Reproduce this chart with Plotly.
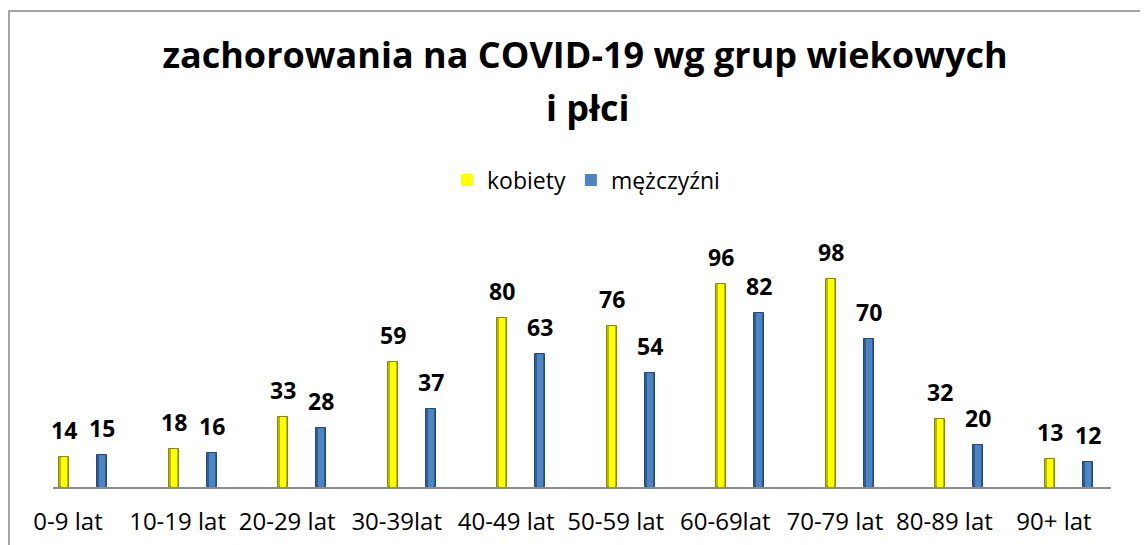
import plotly.graph_objects as go

categories = ["0-9 lat", "10-19 lat", "20-29 lat", "30-39lat", "40-49 lat",
              "50-59 lat", "60-69lat", "70-79 lat", "80-89 lat", "90+ lat"]
kobiety = [14, 18, 33, 59, 80, 76, 96, 98, 32, 13]
mezczyzni = [15, 16, 28, 37, 63, 54, 82, 70, 20, 12]

FONT = "Open Sans"
W, H = 1148, 545
SH = 8  # page body margin offset (screen = figure + 8)
ML, MT = 53 - SH, 200 - SH
MR = W - (1111 - SH)
MB = H - (487 - SH)
OFF = 0.1734   # half distance between the two bars of a group (axis units)
BW = 0.092     # bar width (axis units)

plot_h = H - MT - MB
plot_w = W - ML - MR


def px_x(sx):
    return (sx - SH - ML) / plot_w


def px_y(sy):
    return (H - MB - (sy - SH)) / plot_h


idx = list(range(len(categories)))
xk = [i - OFF for i in idx]
xm = [i + OFF for i in idx]

fig = go.Figure()
# outer (darker edge) bars
fig.add_trace(go.Bar(
    x=xk, y=kobiety, width=BW, showlegend=False, hoverinfo="skip",
    marker=dict(color="#B9B900", line=dict(color="#8A8A00", width=1)),
))
fig.add_trace(go.Bar(
    x=xm, y=mezczyzni, width=BW, showlegend=False, hoverinfo="skip",
    marker=dict(color="#2F5D91", line=dict(color="#234A75", width=1)),
))
# inner highlight for a cylinder-like look (carry the legend)
fig.add_trace(go.Bar(
    x=xk, y=kobiety, width=BW * 0.6, name="kobiety",
    marker=dict(color="#FFFF00", line=dict(color="#A8A800", width=0)),
))
fig.add_trace(go.Bar(
    x=xm, y=mezczyzni, width=BW * 0.6, name="mężczyźni",
    marker=dict(color="#4F84C2", line=dict(color="#2F5D91", width=0)),
))

annotations = []
for xs, ys in ((xk, kobiety), (xm, mezczyzni)):
    for x, y in zip(xs, ys):
        annotations.append(dict(
            x=x, y=y, xref="x", yref="y", text=f"<b>{y}</b>", showarrow=False,
            yanchor="middle", xanchor="center", yshift=27,
            font=dict(family=FONT, size=23, color="#000000"),
        ))

annotations.append(dict(
    x=px_x(588), y=px_y(108), xref="paper", yref="paper",
    text="<b>i płci</b>", showarrow=False, xanchor="center", yanchor="middle",
    font=dict(family=FONT, size=36, color="#000000"),
))

fig.update_layout(
    width=W, height=H,
    margin=dict(l=ML, r=MR, t=MT, b=MB, pad=0, autoexpand=False),
    paper_bgcolor="white", plot_bgcolor="white",
    title=dict(
        text="<b>zachorowania na COVID-19 wg grup wiekowych</b>",
        x=(585 - SH) / W, xanchor="center", xref="container",
        y=1 - (55 - SH) / H, yanchor="middle", yref="container",
        font=dict(family=FONT, size=36, color="#000000"),
    ),
    showlegend=True,
    legend=dict(
        orientation="h", x=px_x(586), xanchor="center",
        y=px_y(180), yanchor="middle",
        font=dict(family=FONT, size=23, color="#000000"),
        bgcolor="rgba(0,0,0,0)", itemwidth=30, traceorder="normal",
    ),
    xaxis=dict(
        range=[-0.274, 9.384], tickmode="array", tickvals=idx, ticktext=categories,
        showline=True, linecolor="#8C8C8C", linewidth=2, showgrid=False,
        zeroline=False, ticks="", ticklabelshift=-15, ticklabelstandoff=12,
        tickfont=dict(family=FONT, size=24, color="#000000"),
    ),
    yaxis=dict(
        range=[0, plot_h / 2.118], visible=False, showgrid=False, zeroline=False,
    ),
    annotations=annotations,
    shapes=[dict(
        type="rect", xref="paper", yref="paper",
        x0=px_x(9), x1=1.5, y0=-1.0, y1=px_y(11),
        line=dict(color="#868686", width=1.5), fillcolor="rgba(0,0,0,0)",
        layer="above",
    )],
    bargap=0, barmode="overlay",
)

fig.write_html("out.html")
